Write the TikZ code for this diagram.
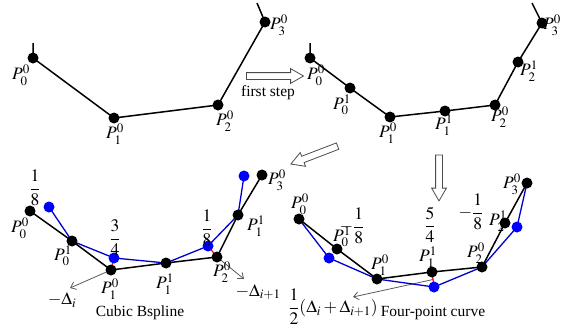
\documentclass[tikz,border=0pt]{standalone}
\usepackage{mathptmx}
\usepackage{fontspec}
\setmainfont{Liberation Serif}
\usetikzlibrary{shapes.arrows,arrows.meta,calc}

\newcommand{\labsize}{\fontsize{17.5}{20}\selectfont}
\newcommand{\txtsize}{\fontsize{15.5}{18}\selectfont}

\begin{document}
\begin{tikzpicture}[
    x=1pt, y=-1pt,
    pt/.style={circle, fill=black, inner sep=0pt, minimum size=11pt},
    bpt/.style={circle, fill=blue, inner sep=0pt, minimum size=11pt},
    lab/.style={inner sep=0pt, font=\labsize},
    txt/.style={inner sep=0pt, font=\txtsize},
    poly/.style={line width=1.5pt},
    bpoly/.style={line width=1.3pt, blue!80!black},
    redshift/.style={red, line width=1.2pt},
    dir/.style={draw=black!65, line width=0.8pt, -{Straight Barb[length=5pt,width=8pt]}},
    hollow/.style={single arrow, draw=black!70, fill=white, line width=0.8pt,
        inner sep=0pt, inner ysep=3pt, text height=0pt, text depth=0pt,
        minimum height=#1, single arrow head extend=4pt, single arrow tip angle=60}
]
    \useasboundingbox (0,0) rectangle (564,332);

    % initial control polygon
    \coordinate (a0) at (33,58);
    \coordinate (a1) at (114,118);
    \coordinate (a2) at (218,105);
    \coordinate (a3) at (265,22);
    \coordinate (a0e) at (33,43);
    \coordinate (a3e) at (257,3);
    \draw[poly] (a0e) -- (a0) -- (a1) -- (a2) -- (a3) -- (a3e);
    \foreach \p in {a0,a1,a2,a3}
        \node[pt] (d\p) at (\p) {};
    \node[lab] (la0) at (21,75) {$P_0^0$};
    \node[lab] (la1) at (115,134) {$P_1^0$};
    \node[lab] (la2) at (225,121) {$P_2^0$};
    \node[lab] (la3) at (279,25) {$P_3^0$};

    \node[hollow=57pt] (step1) at (272,76) {};
    \node[txt] (lstep) at (268,93) {first step};

    % after the first step
    \coordinate (b00) at (310,58);
    \coordinate (b01) at (350,88);
    \coordinate (b10) at (390,117);
    \coordinate (b11) at (445,111);
    \coordinate (b20) at (495,105);
    \coordinate (b21) at (518,62);
    \coordinate (b30) at (542,23);
    \coordinate (b00e) at (310,43);
    \coordinate (b30e) at (532,3);
    \draw[poly] (b00e) -- (b00) -- (b01) -- (b10) -- (b11) -- (b20) -- (b21) -- (b30) -- (b30e);
    \foreach \p in {b00,b01,b10,b11,b20,b21,b30}
        \node[pt] (d\p) at (\p) {};
    \node[lab] (lb00) at (316,75) {$P_0^0$};
    \node[lab] (lb01) at (342,105) {$P_0^1$};
    \node[lab] (lb10) at (388,133) {$P_1^0$};
    \node[lab] (lb11) at (444,125) {$P_1^1$};
    \node[lab] (lb20) at (500,117) {$P_2^0$};
    \node[lab] (lb21) at (529,71) {$P_2^1$};
    \node[lab] (lb30) at (552,25) {$P_3^0$};

    \node[hollow=50pt, rotate=201] (step2) at (317,154) {};
    \node[hollow=46pt, rotate=-90] (step3) at (439,175) {};

    % cubic B-spline
    \coordinate (c00) at (30,211);
    \coordinate (c01) at (72,241);
    \coordinate (c10) at (111,270);
    \coordinate (c11) at (166,263);
    \coordinate (c20) at (217,257);
    \coordinate (c21) at (238,215);
    \coordinate (c30) at (262,175);
    \coordinate (cb0) at (49,207);
    \coordinate (cb1) at (114,258);
    \coordinate (cb2) at (208,246);
    \coordinate (cb3) at (244,176);
    \coordinate (cd1) at (70,288);
    \coordinate (cd2) at (244,279);
    \draw[dir] (c10) -- (cd1);
    \draw[dir] (c20) -- (cd2);
    \draw[poly] (c00) -- (c01) -- (c10) -- (c11) -- (c20) -- (c21) -- (c30);
    \draw[bpoly] (cb0) -- (c01) -- (cb1) -- (c11) -- (cb2) -- (c21) -- (cb3);
    \draw[redshift] (c10) -- (cb1);
    \draw[redshift] (c20) -- (cb2);
    \foreach \p in {c00,c01,c10,c11,c20,c21,c30}
        \node[pt] (d\p) at (\p) {};
    \foreach \p in {cb0,cb1,cb2,cb3}
        \node[bpt] (d\p) at (\p) {};
    \node[lab] (wc0) at (35,188) {$\displaystyle\frac{1}{8}$};
    \node[lab] (wc1) at (115,238) {$\displaystyle\frac{3}{4}$};
    \node[lab] (wc2) at (207,228) {$\displaystyle\frac{1}{8}$};
    \node[lab] (lc00) at (20,228) {$P_0^0$};
    \node[lab] (lc01) at (63,256) {$P_0^1$};
    \node[lab] (lc10) at (110,289) {$P_1^0$};
    \node[lab] (lc11) at (165,284) {$P_1^1$};
    \node[lab] (lc20) at (222,272) {$P_2^0$};
    \node[lab] (lc21) at (256,226) {$P_1^1$};
    \node[lab] (lc30) at (277,180) {$P_3^0$};
    \node[lab] (ldc1) at (62,300) {$-\Delta_i$};
    \node[lab] (ldc2) at (258,292) {$-\Delta_{i+1}$};
    \node[txt] (lcubic) at (140,313) {Cubic Bspline};

    % four-point curve
    \coordinate (e00) at (299,219);
    \coordinate (e01) at (337,249);
    \coordinate (e10) at (377,279);
    \coordinate (e11) at (432,272);
    \coordinate (e20) at (482,267);
    \coordinate (e21) at (505,223);
    \coordinate (e30) at (527,183);
    \coordinate (eb0) at (329,258);
    \coordinate (eb1) at (434,287);
    \coordinate (eb2) at (517,227);
    \coordinate (ed1) at (353,297);
    \draw[dir] ($(e11)!0.5!(eb1)$) -- (ed1);
    \draw[poly] (e00) -- (e01) -- (e10) -- (e11) -- (e20) -- (e21) -- (e30);
    \draw[bpoly] (e00) -- (eb0) -- (e10) -- (eb1) -- (e20) -- (eb2) -- (e30);
    \draw[redshift] (e11) -- (eb1);
    \foreach \p in {e00,e01,e10,e11,e20,e21,e30}
        \node[pt] (d\p) at (\p) {};
    \foreach \p in {eb0,eb1,eb2}
        \node[bpt] (d\p) at (\p) {};
    \node[lab] (le00) at (300,204) {$P_0^0$};
    \node[lab] (le01) at (342,237) {$P_0^1$};
    \node[lab] (le10) at (380,265) {$P_1^0$};
    \node[lab] (le11) at (428,257) {$P_1^1$};
    \node[lab] (le20) at (476,253) {$P_2^0$};
    \node[lab] (le21) at (498,221) {$P_2^1$};
    \node[lab] (le30) at (512,184) {$P_3^0$};
    \node[lab] (we0) at (352,226) {$-\displaystyle\frac{1}{8}$};
    \node[lab] (we1) at (430,225) {$\displaystyle\frac{5}{4}$};
    \node[lab] (we2) at (471,212) {$-\displaystyle\frac{1}{8}$};
    \node[lab] (lde) at (333,307) {$\displaystyle\frac{1}{2}(\Delta_i+\Delta_{i+1})$};
    \node[txt] (lfour) at (433,313) {Four-point curve};
\end{tikzpicture}
\end{document}
